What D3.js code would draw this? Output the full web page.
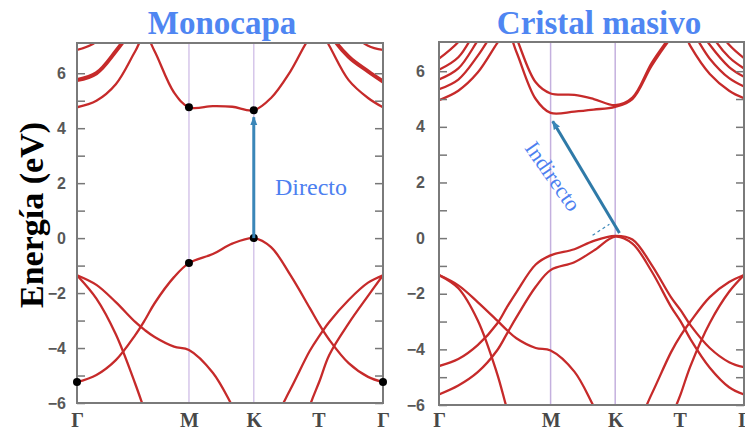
<!DOCTYPE html>
<html>
<head>
<meta charset="utf-8">
<script src="https://cdnjs.cloudflare.com/ajax/libs/d3/7.8.5/d3.min.js"></script>
<style>
  body { margin: 0; background: #fff; }
  svg { display: block; }
  .axis text { font-family: "Liberation Sans", Arial, sans-serif; font-weight: bold; font-size: 16px; fill: #585858; }
  .axis line { stroke: #777; stroke-width: 1.5; }
  .kaxis text { font-family: "Liberation Serif", "Times New Roman", serif; font-weight: bold; font-size: 20px; fill: #484848; }
  .title { font-family: "Liberation Serif", "Times New Roman", serif; font-weight: bold; font-size: 33px; fill: #4f86f2; }
  .note { font-family: "Liberation Serif", "Times New Roman", serif; font-size: 24px; fill: #4d7ff0; }
</style>
</head>
<body>
<svg width="745" height="433"></svg>
<script>
const kGrid = [0, 0.1, 0.2, 0.3, 0.35, 0.4, 0.5, 0.577, 0.7, 0.8, 0.911, 1.0, 1.1, 1.2, 1.25, 1.3, 1.4, 1.5, 1.577];
const kTicks = [0, 0.577, 0.911, 1.244, 1.577];
const kLabels = ["Γ", "M", "K", "T", "Γ"];
const symLines = [0.577, 0.911];

// monocapa bands (eV)
const monoC1 = [4.76, 5.0, 5.6, 6.8, 7.4, 6.8, 5.3, 4.76, 4.8, 4.78, 4.65, 5.1, 6.07, 7.3, 7.6, 7.0, 5.75, 5.1, 4.76];
const monoC2 = [5.75, 6.0, 6.8, 7.8, 8.5, 9.2, 10, 10, 10, 10, 10, 10, 10, 9.2, 8.6, 7.5, 6.6, 6.07, 5.7];
const monoC3 = [6.85, 7.15, 8.2, 9, 9.5, 10, 10, 10, 10, 10, 10, 10, 10, 10, 9.5, 9, 7.6, 7.0, 6.85];
const monoV1 = [-5.24, -4.98, -4.44, -3.53, -2.98, -2.37, -1.42, -0.91, -0.58, -0.2, 0, -0.33, -1.35, -2.55, -3.16, -3.7, -4.55, -5.05, -5.24];
const monoV2 = [-1.35, -1.7, -2.33, -3.05, -3.35, -3.6, -3.95, -4.07, -4.9, -6.1, -7.6, -6.8, -5.5, -4.1, -3.55, -3.05, -2.25, -1.62, -1.35];
const monoV3 = [-1.35, -2.2, -3.5, -5.3, -6.3, -7.3, -8.5, -9.2, -9.8, -10, -10, -10, -8.5, -6.1, -5.2, -4.25, -3.1, -2.1, -1.35];
// black points [k, E]
const monoDots = [[0, -5.24], [0.577, -0.91], [0.911, 0], [1.577, -5.24], [0.577, 4.76], [0.911, 4.65]];

// cristal masivo bands (eV)
const bulkC1 = [4.96, 5.3, 5.95, 7.0, 7.5, 6.7, 5.0, 4.5, 4.55, 4.62, 4.72, 5.0, 6.2, 7.2, 7.6, 6.9, 5.9, 5.3, 5.03];
const bulkC2 = [5.35, 5.7, 6.55, 7.6, 8.0, 7.2, 5.6, 5.2, 5.15, 5.0, 4.78, 5.05, 6.3, 7.3, 7.8, 7.5, 6.45, 5.75, 5.45];
const bulkC3 = [5.7, 6.1, 7.1, 8.2, 9, 9.5, 10, 10, 10, 10, 10, 10, 10, 10, 9, 8, 6.95, 6.15, 5.8];
const bulkC4 = [6.05, 6.5, 7.6, 8.8, 9.5, 10, 10, 10, 10, 10, 10, 10, 10, 10, 10, 8.8, 7.4, 6.5, 6.1];
const bulkC5 = [6.45, 7.05, 8.0, 9.2, 10, 10, 10, 10, 10, 10, 10, 10, 10, 10, 10, 9.4, 7.9, 6.95, 6.47];
const bulkV1 = [-4.6, -4.35, -3.85, -3.08, -2.5, -1.95, -0.95, -0.62, -0.4, -0.1, 0.08, -0.05, -0.97, -2.13, -2.6, -3.13, -3.95, -4.46, -4.64];
const bulkV2 = [-5.62, -5.3, -4.82, -4.04, -3.45, -2.85, -1.75, -1.15, -0.87, -0.45, 0.05, -0.2, -1.2, -2.47, -3.0, -3.63, -4.66, -5.36, -5.62];
const bulkV3 = [-1.33, -1.7, -2.3, -2.96, -3.3, -3.6, -3.95, -4.04, -4.8, -6.05, -7.5, -7.0, -5.6, -4.1, -3.5, -3.0, -2.12, -1.58, -1.33];
const bulkV4 = [-1.33, -1.8, -2.95, -4.86, -6.1, -7.2, -8.5, -9.3, -9.8, -10, -10, -10, -8.6, -6.5, -5.6, -4.6, -3.05, -1.93, -1.33];

// transitions: [kFrom, EFrom, kTo, ETo]
const directGap = [0.911, 0, 0.911, 4.4];
const indirectGap = [0.933, 0.18, 0.588, 4.2];
const indirectGuide = [0.794, 0.1, 0.881, 0.5];

const svg = d3.select("svg");
const fmt = d3.format("d");

svg.append("defs").append("marker")
    .attr("id", "head")
    .attr("viewBox", "0 0 10 10")
    .attr("refX", 9).attr("refY", 5)
    .attr("markerWidth", 9).attr("markerHeight", 9)
    .attr("markerUnits", "userSpaceOnUse")
    .attr("orient", "auto")
  .append("path")
    .attr("d", "M0,1 L10,5 L0,9 Z")
    .attr("fill", "#3a86b8");

function drawPanel(p) {
    const x = d3.scaleLinear().domain([0, 1.577]).range([p.left, p.right]);
    const y = d3.scaleLinear().domain([-6, p.eTop]).range([p.bottom, p.top]);
    const g = svg.append("g");

    g.append("clipPath").attr("id", p.id + "-clip")
      .append("rect")
        .attr("x", p.left).attr("y", p.top)
        .attr("width", p.right - p.left).attr("height", p.bottom - p.top);

    // M and K lines
    g.selectAll(".sym").data(symLines).join("line")
        .attr("class", "sym")
        .attr("x1", d => x(d)).attr("x2", d => x(d))
        .attr("y1", p.top).attr("y2", p.bottom)
        .attr("stroke", p.symColor).attr("stroke-width", 1.5);

    const line = d3.line()
        .x((d, i) => x(kGrid[i]))
        .y(d => y(d))
        .curve(d3.curveCatmullRom.alpha(0.5));

    g.append("g").attr("clip-path", "url(#" + p.id + "-clip)")
      .selectAll("path").data(p.bands).join("path")
        .attr("d", line)
        .attr("fill", "none")
        .attr("stroke", "#c62a2a")
        .attr("stroke-width", d => d === p.thick ? 4 : 2.3)
        .attr("stroke-linejoin", "round");

    // axes, ticks inside on both sides
    g.append("g")
        .attr("class", "axis")
        .attr("transform", "translate(" + p.left + ",0)")
        .call(d3.axisLeft(y).tickValues(d3.range(-6, 7)).tickSize(-8).tickPadding(p.pad)
            .tickFormat(d => d % 2 === 0 ? fmt(d) : ""))
        .call(a => a.select(".domain").remove());

    g.append("g")
        .attr("class", "axis")
        .attr("transform", "translate(" + p.right + ",0)")
        .call(d3.axisRight(y).tickValues(d3.range(-6, 7)).tickSize(-8).tickFormat(""))
        .call(a => a.select(".domain").remove());

    g.append("g")
        .attr("class", "kaxis")
        .attr("transform", "translate(0," + p.bottom + ")")
        .call(d3.axisBottom(x).tickValues(kTicks).tickSize(0).tickPadding(p.kPad)
            .tickFormat((d, i) => kLabels[i]))
        .call(a => a.select(".domain").remove());

    g.append("rect")
        .attr("x", p.left).attr("y", p.top)
        .attr("width", p.right - p.left).attr("height", p.bottom - p.top)
        .attr("fill", "none").attr("stroke", "#7a7a7a").attr("stroke-width", 2);

    g.selectAll(".dot").data(p.dots || []).join("circle")
        .attr("class", "dot")
        .attr("cx", d => x(d[0])).attr("cy", d => y(d[1]))
        .attr("r", 4).attr("fill", "#000");

    g.append("text")
        .attr("class", "title")
        .attr("x", p.titleX).attr("y", 34)
        .attr("text-anchor", "middle")
        .text(p.title);

    return {x, y, g};
}

const mono = drawPanel({
    id: "mono", left: 77, right: 383, top: 43, bottom: 403, eTop: 7.1, pad: 11, kPad: 10,
    symColor: "#d6c6ea", bands: [monoC1, monoC2, monoC3, monoV1, monoV2, monoV3], thick: monoC2,
    dots: monoDots, title: "Monocapa", titleX: 222
});

const bulk = drawPanel({
    id: "bulk", left: 439, right: 744, top: 42, bottom: 405, eTop: 7.05, pad: 14, kPad: 8,
    symColor: "#c4b0de", bands: [bulkC1, bulkC2, bulkC3, bulkC4, bulkC5, bulkV1, bulkV2, bulkV3, bulkV4], thick: null,
    title: "Cristal masivo", titleX: 599
});

// direct gap arrow
mono.g.append("line")
    .attr("x1", mono.x(directGap[0])).attr("y1", mono.y(directGap[1]))
    .attr("x2", mono.x(directGap[2])).attr("y2", mono.y(directGap[3]))
    .attr("stroke", "#3a86b8").attr("stroke-width", 3)
    .attr("marker-end", "url(#head)");

mono.g.append("text")
    .attr("class", "note")
    .attr("x", 275).attr("y", 195)
    .text("Directo");

// indirect gap arrow
bulk.g.append("line")
    .attr("x1", bulk.x(indirectGuide[0])).attr("y1", bulk.y(indirectGuide[1]))
    .attr("x2", bulk.x(indirectGuide[2])).attr("y2", bulk.y(indirectGuide[3]))
    .attr("stroke", "#3a86b8").attr("stroke-width", 1.2)
    .attr("stroke-dasharray", "3,3");

bulk.g.append("line")
    .attr("x1", bulk.x(indirectGap[0])).attr("y1", bulk.y(indirectGap[1]))
    .attr("x2", bulk.x(indirectGap[2])).attr("y2", bulk.y(indirectGap[3]))
    .attr("stroke", "#2f7aa8").attr("stroke-width", 3)
    .attr("marker-end", "url(#head)");

bulk.g.append("text")
    .attr("class", "note")
    .attr("transform", "translate(553,176) rotate(55)")
    .attr("text-anchor", "middle")
    .attr("dy", "0.35em")
    .style("font-size", "22px")
    .text("Indirecto");

// y label
svg.append("text")
    .attr("transform", "translate(43,215) rotate(-90)")
    .attr("text-anchor", "middle")
    .style("font-family", "'Liberation Serif', 'Times New Roman', serif")
    .style("font-weight", "bold")
    .style("font-size", "34px")
    .text("Energía (eV)");
</script>
</body>
</html>
